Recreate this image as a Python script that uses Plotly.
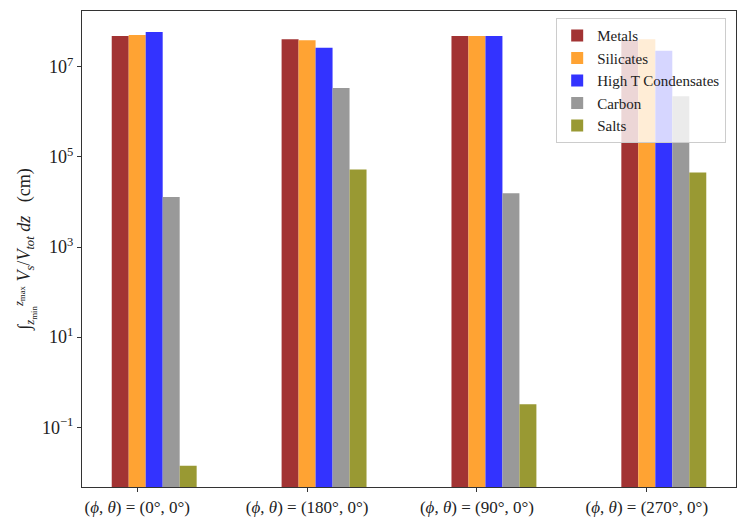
import plotly.graph_objects as go

categories = ["(<i>ϕ</i>, <i>θ</i>) = (0°, 0°)",
              "(<i>ϕ</i>, <i>θ</i>) = (180°, 0°)",
              "(<i>ϕ</i>, <i>θ</i>) = (90°, 0°)",
              "(<i>ϕ</i>, <i>θ</i>) = (270°, 0°)"]
cat_pos = [0, 1, 2, 3]

series_names = ["Metals", "Silicates", "High T Condensates", "Carbon", "Salts"]
metals = [4.8e7, 4.07e7, 4.8e7, 3.9e7]
silicates = [5.1e7, 3.86e7, 4.8e7, 4.1e7]
high_t = [5.9e7, 2.64e7, 4.8e7, 2.27e7]
carbon = [1.29e4, 3.4e6, 1.56e4, 2.23e6]
salts = [0.014, 5.25e4, 0.324, 4.5e4]
series_values = [metals, silicates, high_t, carbon, salts]
colors = ["#a23333", "#ffa333", "#3333ff", "#999999", "#999933"]

ytick_vals = [1e-1, 1e1, 1e3, 1e5, 1e7]
ytick_text = ["10<sup>−1</sup>", "10<sup>1</sup>", "10<sup>3</sup>", "10<sup>5</sup>", "10<sup>7</sup>"]

bar_w = 0.1
fig = go.Figure()
for i, (name, vals, col) in enumerate(zip(series_names, series_values, colors)):
    fig.add_trace(go.Bar(
        x=cat_pos, y=vals, name=name,
        width=bar_w, offset=-1.5 * bar_w + i * bar_w,
        marker=dict(color=col, line=dict(width=0)),
    ))

font_family = "Liberation Serif, DejaVu Serif, serif"
fig.update_layout(
    width=747, height=523,
    barmode="overlay",
    plot_bgcolor="white", paper_bgcolor="white",
    margin=dict(l=82, r=11, t=11, b=36, autoexpand=False),
    font=dict(family=font_family, size=16, color="#222"),
    showlegend=True,
    legend=dict(
        x=0.985, y=0.985, xanchor="right", yanchor="top",
        bgcolor="rgba(255,255,255,0.8)", bordercolor="#cccccc", borderwidth=1,
        font=dict(family=font_family, size=15, color="#222"),
        tracegroupgap=0, itemwidth=30,
    ),
    xaxis=dict(
        range=[-0.325, 3.525], tickvals=cat_pos, ticktext=categories,
        showgrid=False, zeroline=False, automargin=False,
        showline=True, linecolor="#333", linewidth=1.2, mirror=True,
        ticks="outside", ticklen=4, tickcolor="#333",
        tickfont=dict(family=font_family, size=17),
    ),
    yaxis=dict(
        type="log", range=[-2.327, 8.238],
        tickvals=ytick_vals, ticktext=ytick_text,
        showgrid=False, zeroline=False, automargin=False,
        showline=True, linecolor="#333", linewidth=1.2, mirror=True,
        ticks="outside", ticklen=4, tickcolor="#333",
        tickfont=dict(family=font_family, size=18),
        title=dict(
            text="∫<sub><i>z</i><sub>min</sub></sub><sup><i>z</i><sub>max</sub></sup> <i>V<sub>s</sub></i>/<i>V<sub>tot</sub></i> <i>dz</i>   (cm)",
            font=dict(family=font_family, size=18), standoff=6,
        ),
    ),
)

fig.write_html("out.html", config={"displayModeBar": False},
               post_script="document.body.style.margin='0px';")
